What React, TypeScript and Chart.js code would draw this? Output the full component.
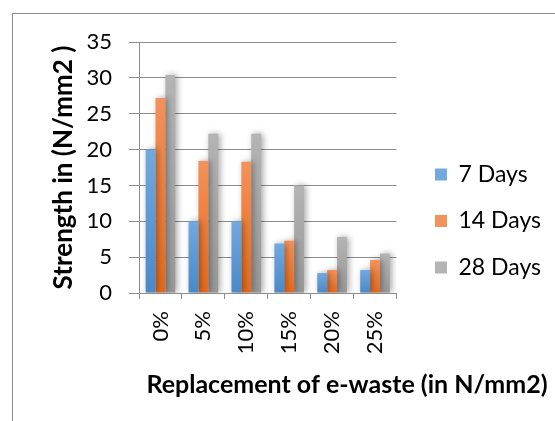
import React, { useEffect, useRef } from "react";
import { Chart, registerables } from "chart.js";

Chart.register(...registerables);

const categories = ["0%", "5%", "10%", "15%", "20%", "25%"];
const days7 = [20, 10, 10, 6.9, 2.8, 3.2];
const days14 = [27.2, 18.4, 18.3, 7.3, 3.2, 4.6];
const days28 = [30.4, 22.2, 22.2, 15, 7.8, 5.5];
const seriesNames = ["7 Days", "14 Days", "28 Days"];
const yTitle = "Strength in (N/mm2 )";
const xTitle = "Replacement of e-waste (in N/mm2)";

const FONT = "Lato, 'Open Sans', sans-serif";

// top (light) and bottom (dark) shades for each series
const shades: [string, string][] = [
  ["#72a9de", "#4a88c7"],
  ["#f3925a", "#e36a1c"],
  ["#b4b4b4", "#979797"],
];

function barFill(idx: number) {
  return (ctx: any) => {
    const chart = ctx.chart;
    const area = chart.chartArea;
    const [top, bottom] = shades[idx];
    if (!area || ctx.raw == null) return top;
    const y = chart.scales.y;
    const yTop = y.getPixelForValue(ctx.raw);
    const yBot = y.getPixelForValue(0);
    if (!isFinite(yTop) || !isFinite(yBot) || yTop === yBot) return top;
    const g = chart.ctx.createLinearGradient(0, yTop, 0, yBot);
    g.addColorStop(0, top);
    g.addColorStop(1, bottom);
    return g;
  };
}

const barShadow = {
  id: "barShadow",
  beforeDatasetsDraw(chart: any) {
    const c = chart.ctx;
    c.save();
    c.shadowColor = "rgba(0,0,0,0.35)";
    c.shadowBlur = 6;
    c.shadowOffsetX = 2;
    c.shadowOffsetY = 0;
  },
  afterDatasetsDraw(chart: any) {
    chart.ctx.restore();
  },
};

// x-axis title, centred between the plot's left edge and the right edge
const bottomTitle = {
  id: "bottomTitle",
  afterDraw(chart: any) {
    const c = chart.ctx;
    const area = chart.chartArea;
    c.save();
    c.font = `bold 25px ${FONT}`;
    c.fillStyle = "#000";
    c.textAlign = "center";
    c.textBaseline = "middle";
    c.fillText(xTitle, (area.left + chart.width) / 2, 385);
    c.restore();
  },
};

export default function App() {
  const ref = useRef<HTMLCanvasElement>(null);

  useEffect(() => {
    if (!ref.current) return;
    const sets = [days7, days14, days28];
    const chart = new Chart(ref.current, {
      type: "bar",
      data: {
        labels: categories,
        datasets: sets.map((d, i) => ({
          label: seriesNames[i],
          data: d,
          backgroundColor: barFill(i),
          borderWidth: 0,
          categoryPercentage: 0.69,
          barPercentage: 1.0,
        })),
      },
      options: {
        responsive: false,
        animation: false,
        layout: { padding: { left: 12, top: 42, right: 4, bottom: 21 } },
        plugins: {
          tooltip: { enabled: false },
          legend: {
            position: "right",
            maxWidth: 200,
            labels: {
              boxWidth: 12,
              boxHeight: 12,
              padding: 23.5,
              color: "#000",
              font: { family: FONT, size: 23 },
              generateLabels: (chart: any) =>
                chart.data.datasets.map((ds: any, i: number) => ({
                  text: ds.label,
                  fillStyle: shades[i][0],
                  strokeStyle: shades[i][0],
                  lineWidth: 0,
                  datasetIndex: i,
                  fontColor: "#000",
                })),
            },
          },
        },
        scales: {
          x: {
            grid: {
              offset: true,
              drawOnChartArea: false,
              drawTicks: true,
              tickLength: 6,
              color: "#8c8c8c",
            },
            border: { color: "#8c8c8c" },
            ticks: {
              minRotation: 90,
              maxRotation: 90,
              padding: 12,
              color: "#000",
              font: { family: FONT, size: 22 },
            },
            afterFit: (s: any) => {
              s.height = 107;
            },
          },
          y: {
            min: 0,
            max: 35,
            ticks: {
              stepSize: 5,
              padding: 17,
              color: "#000",
              font: { family: FONT, size: 22 },
            },
            grid: { color: "#8c8c8c", tickLength: 10 },
            border: { color: "#8c8c8c" },
            title: {
              display: true,
              text: yTitle,
              color: "#000",
              font: { family: FONT, size: 26, weight: "bold" },
              padding: { top: 36, bottom: 0 },
            },
            afterFit: (s: any) => {
              s.width = 127;
            },
          },
          gap: {
            type: "linear",
            position: "right",
            display: true,
            grid: { display: false },
            ticks: { display: false },
            border: { display: false },
            afterFit: (s: any) => {
              s.width = 15;
            },
          },
        },
      },
      plugins: [barShadow, bottomTitle],
    });
    return () => chart.destroy();
  }, []);

  return (
    <div
      style={{
        position: "fixed",
        left: 0,
        top: 0,
        width: 555,
        height: 421,
        overflow: "hidden",
        background: "#fff",
      }}
    >
      <div
        style={{
          position: "absolute",
          left: 12,
          top: 13,
          width: 600,
          height: 500,
          borderTop: "1px solid #8c8c8c",
          borderLeft: "1px solid #8c8c8c",
        }}
      />
      <canvas
        ref={ref}
        width={555}
        height={421}
        style={{ position: "absolute", left: 0, top: 0 }}
      />
    </div>
  );
}
